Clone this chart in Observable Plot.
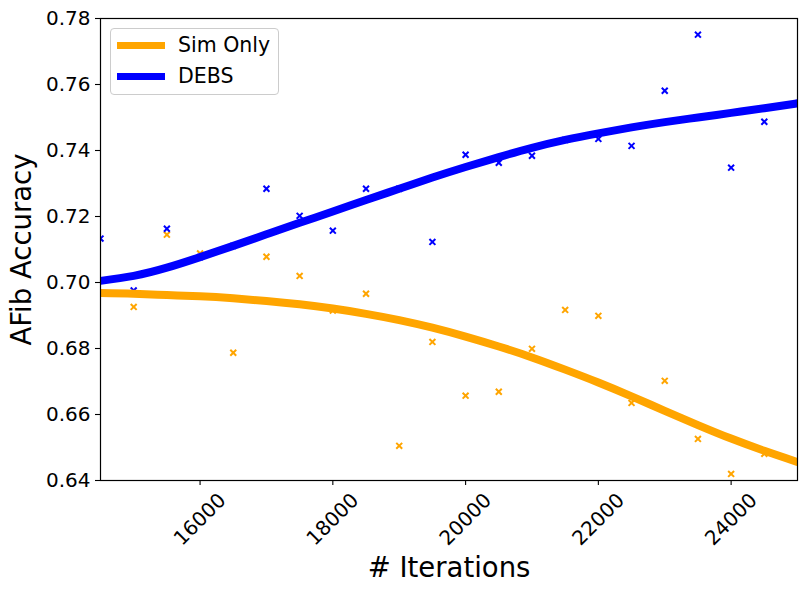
<!DOCTYPE html>
<html>
<head>
<meta charset="utf-8">
<script src="https://cdn.jsdelivr.net/npm/d3@7"></script>
<script src="https://cdn.jsdelivr.net/npm/@observablehq/plot@0.6"></script>
<style>
  body { margin: 0; background: #fff; }
  #wrap { position: relative; width: 807px; height: 594px; font-family: "DejaVu Sans", sans-serif; }
  #legend { position: absolute; left: 110px; top: 28px; width: 167px; height: 65px;
    border: 1px solid #cccccc; border-radius: 4px; background: rgba(255,255,255,0.8); }
  .item { position: absolute; left: 0; height: 30px; width: 167px; }
  .swatch { position: absolute; left: 6px; width: 48px; height: 7px; }
  .lab { position: absolute; left: 67px; font-size: 20.5px; line-height: 1; color: #000; white-space: nowrap; }
</style>
</head>
<body>
<div id="wrap"></div>
<script>
// Scatter data (raw runs)
const iterations = [14500, 15000, 15500, 16000, 16500, 17000, 17500, 18000, 18500, 19000, 19500,
  20000, 20500, 21000, 21500, 22000, 22500, 23000, 23500, 24000, 24500];
const simOnlyAcc = [0.6968, 0.6926, 0.7145, 0.7088, 0.6787, 0.7078, 0.7020, 0.6915, 0.6966, 0.6505, 0.6820,
  0.6657, 0.6669, 0.6799, 0.6917, 0.6899, 0.6635, 0.6702, 0.6526, 0.6420, 0.6481];
const debsAcc = [0.7133, 0.6976, 0.7163, 0.7077, 0.7111, 0.7284, 0.7202, 0.7157, 0.7284, 0.7284, 0.7123,
  0.7387, 0.7363, 0.7384, 0.7432, 0.7435, 0.7414, 0.7581, 0.7751, 0.7348, 0.7487];

// Smoothed fit curves
const fitIterations = [14500, 15000, 15500, 16000, 16500, 17000, 17500, 18000, 18500, 19000, 19500,
  20000, 20500, 21000, 21500, 22000, 22500, 23000, 23500, 24000, 24500, 25000];
const simOnlyFit = [0.6968, 0.6966, 0.6962, 0.6958, 0.6952, 0.6944, 0.6934, 0.6921, 0.6905, 0.6886, 0.6863,
  0.6836, 0.6806, 0.6773, 0.6736, 0.6697, 0.6655, 0.6611, 0.6568, 0.6527, 0.6490, 0.6456];
const debsFit = [0.7005, 0.7020, 0.7045, 0.7077, 0.7111, 0.7146, 0.7181, 0.7215, 0.7250, 0.7284, 0.7318,
  0.7350, 0.7380, 0.7408, 0.7432, 0.7452, 0.7470, 0.7486, 0.7500, 0.7514, 0.7528, 0.7543];

const xTicks = [16000, 18000, 20000, 22000, 24000];
const yTicks = [0.64, 0.66, 0.68, 0.70, 0.72, 0.74, 0.76, 0.78];

const seriesNames = ["Sim Only", "DEBS"];
const seriesColors = ["orange", "blue"];

const simPts = iterations.map((x, i) => ({x, y: simOnlyAcc[i]}));
const debsPts = iterations.map((x, i) => ({x, y: debsAcc[i]}));
const simLine = fitIterations.map((x, i) => ({x, y: simOnlyFit[i]}));
const debsLine = fitIterations.map((x, i) => ({x, y: debsFit[i]}));

const chart = Plot.plot({
  width: 807,
  height: 594,
  marginLeft: 100,
  marginRight: 10,
  marginTop: 18,
  marginBottom: 114,
  style: {fontFamily: "DejaVu Sans, sans-serif", background: "white", color: "black"},
  x: {domain: [14500, 25000]},
  y: {domain: [0.64, 0.78]},
  marks: [
    Plot.dot(simPts, {x: "x", y: "y", symbol: "times", r: 2.8, stroke: seriesColors[0], strokeWidth: 2, clip: true}),
    Plot.dot(debsPts, {x: "x", y: "y", symbol: "times", r: 2.8, stroke: seriesColors[1], strokeWidth: 2, clip: true}),
    Plot.line(simLine, {x: "x", y: "y", stroke: seriesColors[0], strokeWidth: 8, curve: "natural", clip: true}),
    Plot.line(debsLine, {x: "x", y: "y", stroke: seriesColors[1], strokeWidth: 8, curve: "natural", clip: true}),
    Plot.frame({stroke: "black", strokeWidth: 1.2}),
    Plot.axisY({ticks: yTicks, tickSize: 5, tickPadding: 5, fontSize: 20, label: null,
      tickFormat: d3.format(".2f"), strokeWidth: 1.1}),
    Plot.axisX({ticks: xTicks, tickSize: 5, text: null, label: null, strokeWidth: 1.1}),
    Plot.text(xTicks, {x: d => d, frameAnchor: "bottom", dy: 39, rotate: -45, text: d => String(d),
      fontSize: 20, textAnchor: "middle", lineAnchor: "middle", fill: "black"}),
    Plot.text(["AFib Accuracy"], {frameAnchor: "left", dx: -78, rotate: -90, text: d => d,
      fontSize: 27.5, textAnchor: "middle", lineAnchor: "middle", fill: "black"}),
    Plot.text(["# Iterations"], {frameAnchor: "bottom", dy: 88, text: d => d,
      fontSize: 27.5, textAnchor: "middle", lineAnchor: "middle", fill: "black"})
  ]
});

const wrap = document.getElementById("wrap");
wrap.appendChild(chart);

const legend = document.createElement("div");
legend.id = "legend";
seriesNames.forEach((name, i) => {
  const item = document.createElement("div");
  item.className = "item";
  item.style.top = (i * 31) + "px";
  const sw = document.createElement("div");
  sw.className = "swatch";
  sw.style.top = "13px";
  sw.style.background = seriesColors[i];
  const lab = document.createElement("div");
  lab.className = "lab";
  lab.style.top = "6px";
  lab.textContent = name;
  item.appendChild(sw);
  item.appendChild(lab);
  legend.appendChild(item);
});
wrap.appendChild(legend);
</script>
</body>
</html>
